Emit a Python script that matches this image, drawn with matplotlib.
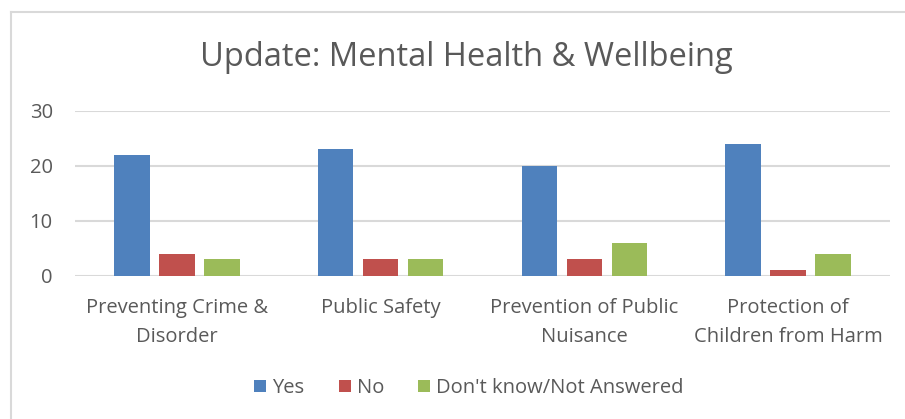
import matplotlib as mpl
mpl.use('Agg')
import matplotlib.pyplot as plt
import numpy as np

categories = ['Preventing Crime &\nDisorder', 'Public Safety',
              'Prevention of Public\nNuisance', 'Protection of\nChildren from Harm']
series_names = ['Yes', 'No', "Don't know/Not Answered"]
yes_vals = [22, 23, 20, 24]
no_vals = [4, 3, 3, 1]
dk_vals = [3, 3, 6, 4]
colors = ['#4F81BD', '#C0504D', '#9BBB59']
yticks = [0, 10, 20, 30]

plt.rcParams['font.family'] = ['Open Sans', 'DejaVu Sans']
text_col = '#595959'

fig = plt.figure(figsize=(9.05, 4.19), dpi=100)
ax = fig.add_axes([75 / 905, 1 - 275.7 / 419, (890 - 75) / 905, (275.7 - 110.7) / 419])

x = np.arange(len(categories))
w = 0.174
step = 0.221
for i, (vals, name) in enumerate(zip([yes_vals, no_vals, dk_vals], series_names)):
    ax.bar(x + (i - 1) * step, vals, width=w, color=colors[i], label=name, zorder=3)

ax.set_xlim(-0.5, len(categories) - 0.5)
ax.set_ylim(0, 30)
ax.set_yticks(yticks)
ax.yaxis.grid(True, color='#D9D9D9', linewidth=1.5, zorder=0)
for s in ax.spines.values():
    s.set_visible(False)
ax.tick_params(axis='both', length=0, labelsize=14.5, labelcolor=text_col)
ax.tick_params(axis='y', pad=16)
ax.tick_params(axis='x', pad=16)
ax.set_xticks(x)
ax.set_xticklabels(categories, linespacing=1.6)

fig.text(466 / 905, 1 - 57 / 419, 'Update: Mental Health & Wellbeing',
         ha='center', va='center', fontsize=23.5, color=text_col)

leg = fig.legend(loc='center', bbox_to_anchor=(469 / 905, 1 - 388 / 419), ncol=3,
                 frameon=False, fontsize=14.5, handlelength=0.6, handleheight=0.6,
                 handletextpad=0.3, columnspacing=1.7)
for t in leg.get_texts():
    t.set_color(text_col)

# chart area border (only top and left visible in the crop)
fig.add_artist(plt.Line2D([10.5 / 905, 1], [1 - 12 / 419, 1 - 12 / 419],
                          transform=fig.transFigure, color='#D9D9D9', linewidth=1.5))
fig.add_artist(plt.Line2D([10.5 / 905, 10.5 / 905], [0, 1 - 12 / 419],
                          transform=fig.transFigure, color='#D9D9D9', linewidth=1.5))

fig.savefig('out.png', dpi=100)
